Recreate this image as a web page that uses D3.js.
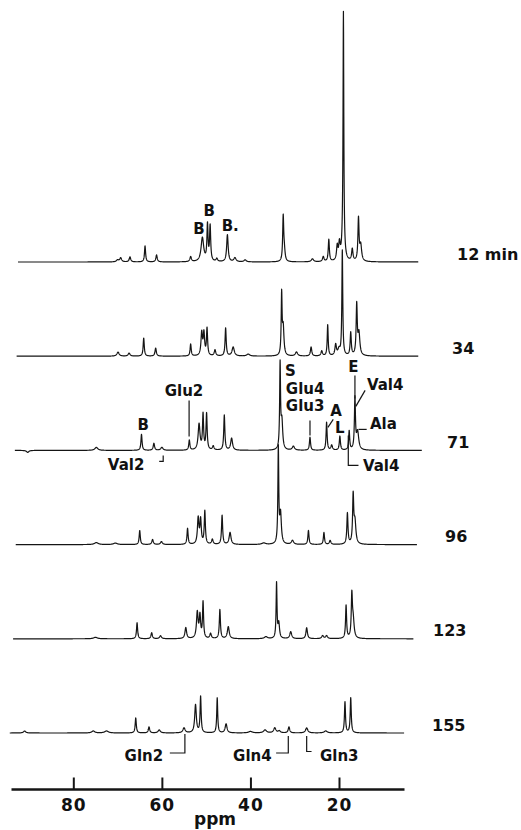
<!DOCTYPE html>
<html>
<head>
<meta charset="utf-8">
<script src="https://cdn.jsdelivr.net/npm/d3@7"></script>
<style>
body { margin: 0; background: #fff; }
svg { display: block; }
text { font-family: "DejaVu Sans", sans-serif; font-weight: bold; fill: #111; }
</style>
</head>
<body>
<svg id="chart" width="521" height="830"></svg>
<script>
// spectra, top to bottom (time after start)
const spectra = ["12 min", "34", "71", "96", "123", "155"];
const ppmStart = [92.5, 92.8, 93.2, 93.0, 93.6, 94.35];
const ppmEnd = [2.1, 2.1, 1.3, 2.4, 3.2, 5.3];

// peaks: [ppm, height, half width (ppm)]
const peaks12 = [
	[70.0, 2, 0.3], [69.3, 4, 0.25], [67.2, 5, 0.2], [63.8, 16, 0.15], [61.2, 7, 0.18],
	[53.5, 5, 0.2], [50.85, 24, 0.35], [49.7, 36, 0.15], [49.1, 35, 0.15], [47.6, 3, 0.2],
	[45.2, 27, 0.2], [43.5, 4, 0.3], [41.2, 2, 0.3], [32.6, 44, 0.14], [32.35, 10, 0.2],
	[26.0, 3, 0.3], [23.55, 5, 0.2], [22.3, 22, 0.15], [20.4, 14, 0.18], [19.9, 16, 0.2],
	[19.05, 25, 0.3], [19.0, 225, 0.1], [17.0, 12, 0.18], [15.6, 42, 0.15], [15.1, 16, 0.25]
];
const peaks34 = [
	[69.9, 4, 0.3], [67.4, 3, 0.25], [64.1, 18, 0.15], [61.4, 8, 0.18], [53.5, 12, 0.15],
	[51.0, 23, 0.2], [50.5, 22, 0.18], [49.8, 27, 0.15], [48.0, 6, 0.2], [45.6, 28, 0.15],
	[43.9, 9, 0.3], [40.5, 2, 0.4], [32.95, 60, 0.12], [32.6, 28, 0.2], [29.6, 4, 0.3],
	[26.3, 9, 0.18], [23.9, 5, 0.2], [22.55, 31, 0.13], [20.75, 11, 0.2], [20.0, 6, 0.3],
	[19.25, 105, 0.12], [17.35, 23, 0.15], [16.0, 50, 0.15], [15.5, 22, 0.25]
];
const peaks71 = [
	[90.3, -2, 0.3], [74.8, 3, 0.4], [64.6, 16, 0.15], [61.8, 7, 0.18], [60.0, 3, 0.3],
	[53.8, 10, 0.15], [51.6, 26, 0.25], [50.7, 35, 0.15], [49.9, 36, 0.15], [48.4, 4, 0.2],
	[45.9, 35, 0.15], [44.25, 12, 0.25], [33.3, 84, 0.12], [32.9, 28, 0.22], [30.3, 4, 0.3],
	[26.55, 13, 0.15], [22.8, 28, 0.14], [21.65, 5, 0.2], [19.8, 14, 0.15], [17.7, 19, 0.14],
	[16.4, 51, 0.14], [15.8, 18, 0.3]
];
const peaks96 = [
	[74.8, 2, 0.5], [70.5, 1.5, 0.5], [65.0, 14, 0.15], [62.1, 5, 0.2], [60.1, 3, 0.25],
	[54.2, 16, 0.15], [51.8, 26, 0.2], [51.25, 24, 0.18], [50.3, 33, 0.15], [48.6, 5, 0.2],
	[46.4, 29, 0.15], [44.6, 12, 0.25], [37.0, 1.5, 0.5], [33.7, 95, 0.12], [33.2, 30, 0.22],
	[30.5, 4, 0.3], [26.9, 14, 0.15], [23.4, 12, 0.15], [22.0, 4, 0.2], [18.1, 31, 0.15],
	[16.8, 47, 0.15], [16.4, 22, 0.25]
];
const peaks123 = [
	[75.0, 1.5, 0.5], [65.6, 16, 0.15], [62.3, 6, 0.18], [60.3, 3, 0.25], [54.6, 11, 0.22],
	[52.0, 26, 0.22], [51.4, 22, 0.18], [50.7, 36, 0.14], [49.0, 5, 0.2], [46.9, 29, 0.15],
	[45.0, 12, 0.25], [36.5, 2, 0.4], [34.1, 55, 0.12], [33.6, 15, 0.2], [30.9, 7, 0.25],
	[27.3, 11, 0.2], [23.7, 3, 0.25], [22.8, 3, 0.25], [18.4, 33, 0.14], [17.1, 41, 0.15],
	[16.8, 18, 0.25]
];
const peaks155 = [
	[91.0, 2, 0.3], [75.5, 2, 0.4], [72.5, 2, 0.5], [65.9, 15, 0.15], [62.9, 6, 0.18],
	[60.6, 3, 0.3], [55.0, 5, 0.3], [52.4, 28, 0.22], [51.25, 36, 0.14], [47.5, 35, 0.13],
	[45.5, 9, 0.25], [40.0, 1.5, 0.5], [36.7, 3, 0.4], [34.5, 5, 0.3], [33.5, 2, 0.3],
	[31.3, 6, 0.2], [27.3, 5, 0.3], [23.0, 2, 0.4], [18.65, 31, 0.14], [17.35, 35, 0.14]
];
const peakLists = [peaks12, peaks34, peaks71, peaks96, peaks123, peaks155];

const axisTicks = [80, 60, 40, 20];

// peak assignments: [spectrum, anchor, [[text, ppm, height], ...]] - stacked lines share one label
const labels = [
	["12 min", "middle", [["B", 51.6, 28]]], ["12 min", "middle", [["B", 49.3, 46]]], ["12 min", "start", [["B.", 46.5, 31]]],
	["71", "middle", [["B", 64.2, 20]]], ["71", "middle", [["Glu2", 55.0, 54]]],
	["71", "start", [["S", 32.2, 74], ["Glu4", 32.0, 56.5], ["Glu3", 32.0, 39]]],
	["71", "start", [["A", 22.0, 34.5], ["L", 20.9, 17]]],
	["71", "start", [["E", 17.9, 78]]], ["71", "start", [["Val4", 13.7, 60]]],
	["71", "start", [["Ala", 13.0, 21]]], ["71", "start", [["Val4", 14.6, -21]]], ["71", "start", [["Val2", 72.2, -20]]],
	["155", "end", [["Gln2", 59.7, -28]]], ["155", "end", [["Gln4", 35.2, -28]]], ["155", "start", [["Gln3", 24.3, -28]]]
];
// leader lines: [spectrum, [[ppm, height], ...]]
const leaders = [
	["71", [[53.85, 50], [53.85, 14]]],
	["71", [[26.55, 30], [26.55, 15]]],
	["71", [[21.3, 31], [22.5, 23]]],
	["71", [[16.4, 75], [16.4, 52]]],
	["71", [[14.1, 60], [16.2, 44]]],
	["71", [[15.6, 21], [13.75, 21]]],
	["71", [[17.9, 15], [17.9, -15], [15.6, -15]]],
	["71", [[60.6, -11], [59.7, -11], [59.7, -5]]],
	["155", [[54.8, -1], [54.8, -20], [58.2, -20]]],
	["155", [[31.45, -3], [31.45, -20], [34.2, -20]]],
	["155", [[27.3, -3], [27.3, -18.5], [26.2, -18.5]]]
];

const svg = d3.select("#chart");
const labelLeft = [457, 452, 447, 445, 433, 432];

const x = d3.scaleLinear().domain([94.07, 5.32]).range([11, 404]);
const yRow = d3.scalePoint().domain(spectra).range([262, 733]);
const amp = d3.scaleLinear().domain([0, 100]).range([0, -100]);

function lineShape(peaks, start, end) {
	let grid = d3.range(start, end, -0.03);
	grid.push(end);
	peaks.forEach(p => { if (p[0] < start && p[0] > end) grid.push(p[0]); });
	grid.sort((a, b) => b - a);
	return grid.map(v => [v, d3.sum(peaks, p => p[1] * p[2] * p[2] / ((v - p[0]) ** 2 + p[2] * p[2]))]);
}

const line = d3.line().x(d => x(d[0])).y(d => amp(d[1]));

spectra.forEach((s, i) => {
	const g = svg.append("g").attr("transform", `translate(0,${yRow(s)})`);
	g.append("path")
		.datum(lineShape(peakLists[i], ppmStart[i], ppmEnd[i]))
		.attr("d", line)
		.attr("fill", "none")
		.attr("stroke", "#151515")
		.attr("stroke-width", 1.2)
		.attr("stroke-linejoin", "round");
	g.append("text")
		.attr("x", labelLeft[i])
		.attr("y", -2.5)
		.attr("font-size", 16)
		.text(s);
});

// assignments
svg.selectAll(".lead")
	.data(leaders)
	.enter()
	.append("path")
	.attr("transform", d => `translate(0,${yRow(d[0])})`)
	.attr("d", d => line(d[1]))
	.attr("fill", "none")
	.attr("stroke", "#151515")
	.attr("stroke-width", 1.2);

svg.selectAll(".lab")
	.data(labels)
	.enter()
	.append("text")
	.attr("transform", d => `translate(0,${yRow(d[0])})`)
	.attr("text-anchor", d => d[1])
	.attr("font-size", 15)
	.selectAll("tspan")
	.data(d => d[2])
	.enter()
	.append("tspan")
	.attr("x", t => x(t[1]))
	.attr("y", t => amp(t[2]))
	.text(t => t[0]);

// ppm axis
const axis = d3.axisBottom(x).tickValues(axisTicks).tickSizeInner(-11.5).tickSizeOuter(0).tickPadding(10);
svg.append("g")
	.attr("transform", "translate(0,789)")
	.call(axis)
	.attr("font-size", 17)
	.attr("font-family", null)
	.call(g => g.select(".domain").attr("stroke", "#151515").attr("stroke-width", 2.5))
	.call(g => g.selectAll(".tick line").attr("stroke", "#151515").attr("stroke-width", 2))
	.call(g => g.selectAll(".tick text").attr("fill", "#111").attr("letter-spacing", 1));

svg.append("text")
	.attr("x", x(48))
	.attr("y", 825)
	.attr("text-anchor", "middle")
	.attr("font-size", 17)
	.text("ppm");
</script>
</body>
</html>
